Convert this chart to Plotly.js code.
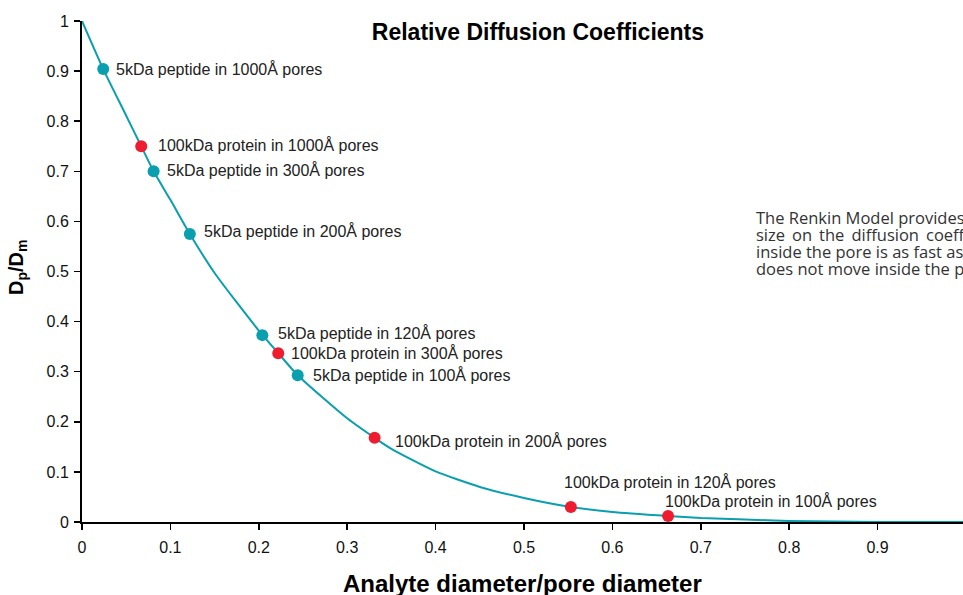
<!DOCTYPE html>
<html>
<head>
<meta charset="utf-8">
<script src="https://cdn.plot.ly/plotly-3.0.1.min.js"></script>
<style>
html,body{margin:0;padding:0;background:#fff;overflow:hidden;}
#chart{width:963px;height:595px;}
</style>
</head>
<body>
<div id="chart"></div>
<script>
// Renkin curve
const curveX = [0, 0.024, 0.05, 0.067, 0.081, 0.1, 0.122, 0.15, 0.2, 0.222, 0.244, 0.3, 0.331, 0.35, 0.4, 0.45, 0.5, 0.553, 0.6, 0.663, 0.7, 0.75, 0.8, 0.85, 0.9, 0.95, 1.0];
const curveY = [1, 0.904, 0.811, 0.75, 0.70, 0.643, 0.575, 0.497, 0.382, 0.337, 0.293, 0.207, 0.168, 0.146, 0.101, 0.070, 0.048, 0.030, 0.020, 0.012, 0.008, 0.005, 0.002, 0.001, 0.0002, 0, 0];

// Marked analytes
const pointX = [0.024, 0.067, 0.081, 0.122, 0.204, 0.222, 0.244, 0.331, 0.553, 0.663];
const pointY = [0.904, 0.750, 0.700, 0.575, 0.373, 0.337, 0.293, 0.168, 0.030, 0.012];
const pointLabels = [
  "5kDa peptide in 1000Å pores",
  "100kDa protein in 1000Å pores",
  "5kDa peptide in 300Å pores",
  "5kDa peptide in 200Å pores",
  "5kDa peptide in 120Å pores",
  "100kDa protein in 300Å pores",
  "5kDa peptide in 100Å pores",
  "100kDa protein in 200Å pores",
  "100kDa protein in 120Å pores",
  "100kDa protein in 100Å pores"
];
const pointKind = ["peptide","protein","peptide","peptide","peptide","protein","peptide","protein","protein","protein"];

const xTicks = [0, 0.1, 0.2, 0.3, 0.4, 0.5, 0.6, 0.7, 0.8, 0.9];
const yTicks = [0, 0.1, 0.2, 0.3, 0.4, 0.5, 0.6, 0.7, 0.8, 0.9, 1];

const noteLines = [
  "The Renkin Model provides an estimate of the effect",
  "size\u2009 on\u2009 the\u2009 diffusion\u2009 coefficient of the analyte",
  "inside the pore is as fast as in free solution",
  "does not move inside the pore."
];

// styling
const TEAL = "#0a9fae";
const RED = "#ee1c2e";
const FONT = "'Liberation Sans', Arial, Helvetica, sans-serif";
const labelShift = [[11,0],[15,1],[11,1],[12,3],[14,2],[11,0],[13,0],[18,-3],[-9,25],[-5,15]];

const traces = [
  {x: curveX, y: curveY, mode: "lines", line: {color: TEAL, width: 2, shape: "spline", smoothing: 0.6}, hoverinfo: "skip", showlegend: false},
  {x: pointX, y: pointY, mode: "markers",
   marker: {size: 12, color: pointKind.map(k => k === "peptide" ? TEAL : RED), line: {width: 0}},
   showlegend: false}
];

const annotations = pointLabels.map((t, i) => ({
  x: pointX[i], y: pointY[i], xref: "x", yref: "y", text: t, showarrow: false,
  xanchor: "left", yanchor: "middle", xshift: labelShift[i][0], yshift: labelShift[i][1],
  font: {family: FONT, size: 16, color: "#222"}
}));

noteLines.forEach((t, i) => annotations.push({
  x: (756 - 82) / 884, xref: "paper", y: (522 - (217 + i * 17.3)) / 501, yref: "paper",
  text: t, showarrow: false, xanchor: "left", yanchor: "middle", align: "left",
  font: {family: "'Open Sans', 'Noto Sans', sans-serif", size: 16.5, color: "#333"}
}));

annotations.push({
  x: 0.5, xref: "paper", y: (522 - 583) / 501, yref: "paper", yanchor: "middle",
  text: "<b>Analyte diameter/pore diameter</b>", showarrow: false,
  font: {family: FONT, size: 24, color: "#000"}
});
annotations.push({
  x: 0, xref: "paper", xshift: -65, y: (522 - 268) / 501, yref: "paper",
  xanchor: "center", yanchor: "middle", textangle: -90,
  text: "<b>D<sub>p</sub>/D<sub>m</sub></b>", showarrow: false,
  font: {family: FONT, size: 20, color: "#000"}
});

const layout = {
  width: 963, height: 595,
  margin: {l: 82, r: 0, t: 21, b: 73},
  paper_bgcolor: "#fff", plot_bgcolor: "#fff",
  title: {text: "<b>Relative Diffusion Coefficients</b>", x: (539.5 - 82) / 884, xref: "paper", xanchor: "center",
          y: 1 - 32 / 595, yanchor: "middle", font: {family: FONT, size: 23, color: "#000"}},
  xaxis: {range: [0, (963 - 82) / 884], tickvals: xTicks, ticktext: xTicks.map(String),
          showgrid: false, zeroline: false, showline: true, linecolor: "#000", linewidth: 2,
          ticks: "outside", ticklen: 6, tickwidth: 1.5, tickcolor: "#000", ticklabelstandoff: 4,
          tickfont: {family: FONT, size: 16, color: "#111"}},
  yaxis: {range: [0, 1], tickvals: yTicks, ticktext: yTicks.map(String),
          showgrid: false, zeroline: false, showline: true, linecolor: "#000", linewidth: 2,
          ticks: "outside", ticklen: 6, tickwidth: 1.5, tickcolor: "#000", ticklabelstandoff: 2,
          tickfont: {family: FONT, size: 16, color: "#111"}},
  annotations: annotations,
  showlegend: false
};

Plotly.newPlot("chart", traces, layout, {displayModeBar: false, staticPlot: true});
</script>
</body>
</html>
